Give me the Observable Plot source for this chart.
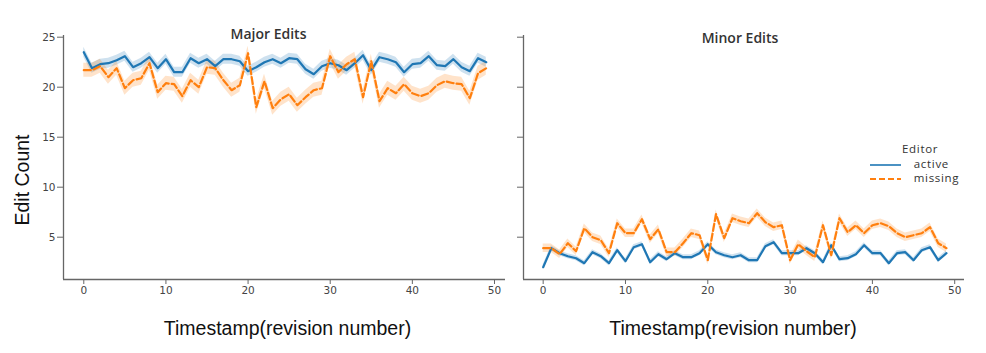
<!DOCTYPE html>
<html><head><meta charset="utf-8">
<script src="https://cdn.jsdelivr.net/npm/d3@7"></script>
<script src="https://cdn.jsdelivr.net/npm/@observablehq/plot@0.6"></script>
<style>
body{margin:0;background:#fff;}
#wrap{position:relative;width:986px;height:353px;overflow:hidden;font-family:"Open Sans",sans-serif;}
#wrap svg{position:absolute;top:0;}
#ylab{position:absolute;left:22px;top:180px;transform:translate(-50%,-50%) rotate(-90deg);font-family:"Liberation Sans",Arial,sans-serif;font-size:19.5px;color:#111;white-space:nowrap;}
#legend{position:absolute;left:862px;top:141px;font-family:"Open Sans",sans-serif;font-size:11.5px;color:#333;letter-spacing:0.7px;}
#legend .t{position:absolute;left:40px;top:0;width:34px;text-align:center;}
#legend .row{position:absolute;left:0;height:14px;white-space:nowrap;}
#legend svg{position:static;vertical-align:middle;}
</style></head><body><div id="wrap"><div id="ylab">Edit Count</div>
<div id="legend"><div class="t">Editor</div>
<div class="row" style="top:15px"><svg width="48" height="10"><line x1="8" x2="39" y1="5" y2="5" stroke="#1f77b4" stroke-width="1.6"/></svg> active</div>
<div class="row" style="top:29px"><svg width="48" height="10"><line x1="8" x2="39" y1="5" y2="5" stroke="#ff7f0e" stroke-width="1.8" stroke-dasharray="6,3"/></svg> missing</div>
</div></div>
<script>
const timestamps = [0,1,2,3,4,5,6,7,8,9,10,11,12,13,14,15,16,17,18,19,20,21,22,23,24,25,26,27,28,29,30,31,32,33,34,35,36,37,38,39,40,41,42,43,44,45,46,47,48,49];
const editors = ["active","missing"];
const panelTitles = ["Major Edits","Minor Edits"];
const xTicks = [0,10,20,30,40,50];
const yTicks = [5,10,15,20,25];

const majorActive = [23.5,21.9,22.3,22.4,22.7,23.1,22.0,22.4,23.0,21.9,22.8,21.5,21.5,22.9,22.4,22.8,22.1,22.8,22.8,22.6,21.6,22.0,22.5,22.8,22.4,22.9,22.8,21.8,21.3,22.1,22.4,22.2,21.7,22.4,23.2,21.7,23.0,22.8,22.5,21.5,22.3,22.4,23.1,22.2,22.1,22.8,22.0,21.6,22.9,22.5];
const majorMissing = [21.7,21.7,22.1,21.0,21.9,19.9,20.7,20.9,22.4,19.5,20.4,20.3,19.1,20.7,20.0,22.0,21.9,20.7,19.7,20.2,23.4,18.0,20.6,17.9,18.8,19.3,18.2,19.0,19.7,19.9,23.1,21.5,22.3,22.8,19.0,22.6,18.6,19.9,19.4,20.3,19.4,19.1,19.4,20.2,20.6,20.4,20.3,18.9,21.4,21.9];
const minorActive = [2.0,3.9,3.4,3.1,2.9,2.4,3.5,3.1,2.4,3.7,2.6,4.0,4.3,2.5,3.3,2.8,3.4,3.0,3.0,3.4,4.3,3.5,3.2,3.0,3.2,2.7,2.7,4.1,4.5,3.4,3.4,3.4,3.9,3.4,2.5,4.2,2.8,2.9,3.3,4.2,3.4,3.4,2.4,3.4,3.5,2.7,3.7,4.0,2.7,3.4];
const minorMissing = [3.9,3.9,3.3,4.4,3.6,5.9,5.0,4.7,3.4,6.4,5.4,5.4,6.8,4.8,5.8,3.5,3.5,4.4,5.4,5.2,2.7,7.3,4.9,6.9,6.6,6.4,7.4,6.5,6.0,6.2,2.7,4.3,3.6,3.0,6.2,3.2,6.9,5.5,6.2,5.4,6.2,6.4,6.1,5.4,5.0,5.2,5.4,6.0,4.4,3.9];
// half-width of the confidence band, per panel and editor
const majorCI = [0.5, 0.7];
const minorCI = [0.25, 0.42];

const colors = ["#1f77b4","#ff7f0e"];
const yDomain = [0.77, 25.17];

function rows(active, missing, ci) {
  const out = [];
  [active, missing].forEach((vals, k) => {
    vals.forEach((v, i) => out.push({t: timestamps[i], v, series: editors[k], lo: v - ci[k], hi: v + ci[k]}));
  });
  return out;
}

function panel({data, xDomain, width, marginLeft, marginRight, title, titleDx, titleDy, labelDx, showYLabels}) {
  const tickFont = {fontSize: 10.5, fontFamily: "DejaVu Sans, sans-serif"};
  return Plot.plot({
    width, height: 353,
    marginLeft, marginRight, marginTop: 35, marginBottom: 74,
    x: {domain: xDomain, label: null},
    y: {domain: yDomain, label: null},
    color: {domain: editors, range: colors},
    style: {background: "transparent", overflow: "visible"},
    marks: [
      Plot.areaY(data, {x: "t", y1: "lo", y2: "hi", z: "series", fill: "series", fillOpacity: 0.22}),
      Plot.lineY(data.filter(d => d.series === "active"), {x: "t", y: "v", stroke: colors[0], strokeWidth: 2.2}),
      Plot.lineY(data.filter(d => d.series === "missing"), {x: "t", y: "v", stroke: colors[1], strokeWidth: 2.2, strokeDasharray: "7,3"}),
      Plot.ruleX([xDomain[0]], {stroke: "#666", strokeWidth: 1.3}),
      Plot.ruleY([yDomain[0]], {stroke: "#666", strokeWidth: 1.3}),
      Plot.axisX({ticks: xTicks, tickSize: 5, tickPadding: 2, stroke: "#666", fill: "#444", label: null, ...tickFont, style: {letterSpacing: "1.5px"}}),
      Plot.axisY({ticks: yTicks, tickSize: 6, tickPadding: 2, stroke: "#666", fill: "#444", label: null, tickFormat: showYLabels ? d => d : () => "", ...tickFont, style: {letterSpacing: "0.8px"}}),
      Plot.text([title], {frameAnchor: "top", lineAnchor: "middle", dx: titleDx, dy: titleDy, fontSize: 14, fontWeight: 600, fill: "#333", fontFamily: "Open Sans, sans-serif", style: {letterSpacing: "1.6px"}}),
      Plot.text(["Timestamp(revision number)"], {frameAnchor: "bottom", lineAnchor: "middle", dx: labelDx, dy: 49, fontSize: 19.5, fill: "#111", fontFamily: "Liberation Sans, Arial, sans-serif"})
    ]
  });
}

const wrap = document.getElementById("wrap");
const left = panel({data: rows(majorActive, majorMissing, majorCI), xDomain: [-2.47, 51.34], width: 510, marginLeft: 63, marginRight: 5,
  title: panelTitles[0], titleDx: -16, titleDy: -1, labelDx: 3, showYLabels: true});
left.style.left = "0px";
const right = panel({data: rows(minorActive, minorMissing, minorCI), xDomain: [-2.39, 51.19], width: 476, marginLeft: 13, marginRight: 22,
  title: panelTitles[1], titleDx: -4, titleDy: 3, labelDx: -11, showYLabels: false});
right.style.left = "510px";
wrap.insertBefore(right, wrap.firstChild);
wrap.insertBefore(left, wrap.firstChild);
</script>
</body></html>
